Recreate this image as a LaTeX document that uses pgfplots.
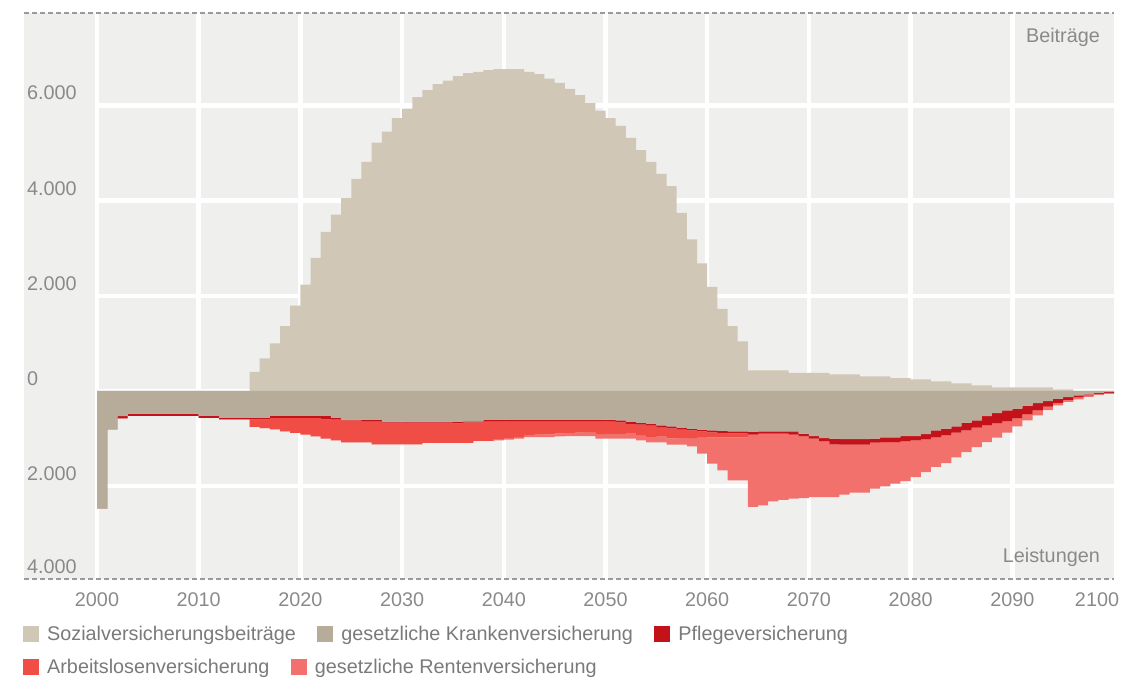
\documentclass[border=0pt]{standalone}
\usepackage{pgfplots}
\pgfplotsset{compat=1.18}
\usepackage{pgfplotstable}
\usepackage{fontspec}
\setmainfont{Liberation Sans}
\definecolor{cBG}{HTML}{EFEFEE}
\definecolor{cS}{HTML}{D0C7B7}
\definecolor{cK}{HTML}{B7AB9A}
\definecolor{cP}{HTML}{C4121B}
\definecolor{cA}{HTML}{EF4D45}
\definecolor{cR}{HTML}{F2716C}
\definecolor{cTxt}{HTML}{8A8A8A}
\definecolor{cLeg}{HTML}{7A7A7A}
\definecolor{cDash}{HTML}{9A9A9A}
\newcommand{\chartfont}{\fontsize{19.8bp}{24bp}\selectfont}

\pgfplotstableread{
year S K P A R
2000 0 -2470 0 0 0
2001 0 -806 0 0 0
2002 0 -526 -49 0 0
2003 0 -477 -48 0 0
2004 0 -477 -48 0 0
2005 0 -477 -48 0 0
2006 0 -477 -48 0 0
2007 0 -477 -48 0 0
2008 0 -477 -48 0 0
2009 0 -477 -48 0 0
2010 0 -525 -42 0 0
2011 0 -525 -42 0 0
2012 0 -567 -30 0 0
2013 0 -567 -30 0 0
2014 0 -567 -30 0 0
2015 403 -567 -30 -159 0
2016 683 -567 -30 -183 0
2017 998 -525 -42 -239 0
2018 1362 -525 -42 -281 0
2019 1796 -525 -42 -315 0
2020 2237 -525 -42 -351 0
2021 2798 -525 -42 -387 0
2022 3344 -525 -72 -405 0
2023 3708 -567 -36 -435 0
2024 4050 -603 -15 -462 0
2025 4457 -603 -15 -462 0
2026 4815 -603 -42 -435 0
2027 5220 -603 -42 -477 0
2028 5451 -645 -21 -456 0
2029 5731 -645 -21 -456 0
2030 5928 -645 -21 -456 0
2031 6172 -645 -21 -456 0
2032 6319 -645 -21 -426 0
2033 6445 -645 -21 -426 0
2034 6523 -645 -21 -426 0
2035 6613 -645 -35 -412 0
2036 6676 -638 -21 -433 0
2037 6706 -638 -21 -391 0
2038 6739 -603 -42 -405 0
2039 6760 -603 -40 -369 -25
2040 6760 -603 -40 -347 -30
2041 6760 -603 -40 -324 -35
2042 6706 -603 -40 -279 -45
2043 6655 -603 -40 -274 -50
2044 6565 -603 -40 -269 -55
2045 6475 -603 -40 -250 -60
2046 6349 -603 -40 -238 -65
2047 6214 -603 -40 -233 -70
2048 6046 -603 -40 -223 -80
2049 5893 -603 -40 -264 -95
2050 5731 -603 -40 -259 -100
2051 5571 -620 -40 -242 -100
2052 5319 -650 -40 -207 -105
2053 5059 -665 -40 -222 -110
2054 4815 -690 -40 -234 -115
2055 4563 -720 -40 -199 -120
2056 4303 -745 -40 -213 -130
2057 3744 -770 -40 -173 -145
2058 3183 -790 -40 -158 -175
2059 2679 -810 -40 -120 -347
2060 2189 -830 -40 -105 -552
2061 1727 -838 -40 -97 -692
2062 1361 -850 -40 -85 -902
2063 1040 -850 -40 -85 -902
2064 433 -861 -56 0 -1520
2065 433 -848 -49 0 -1505
2066 433 -848 -49 0 -1422
2067 433 -848 -49 0 -1393
2068 383 -848 -69 0 -1346
2069 383 -897 -56 0 -1296
2070 383 -946 -56 0 -1226
2071 383 -988 -70 0 -1170
2072 347 -1002 -119 0 -1107
2073 347 -1009 -119 0 -1051
2074 347 -1009 -119 0 -1009
2075 305 -1009 -119 0 -1009
2076 305 -1002 -84 0 -967
2077 305 -974 -98 0 -932
2078 271 -974 -98 0 -876
2079 271 -946 -112 0 -834
2080 242 -946 -91 0 -771
2081 242 -904 -105 0 -694
2082 200 -827 -140 0 -630
2083 200 -792 -140 0 -581
2084 158 -743 -133 0 -518
2085 158 -666 -161 0 -455
2086 116 -617 -154 0 -406
2087 116 -526 -196 0 -350
2088 76 -463 -217 0 -301
2089 76 -407 -224 0 -245
2090 76 -372 -196 0 -175
2091 76 -306 -178 0 -133
2092 76 -253 -154 0 -105
2093 76 -211 -119 0 -70
2094 34 -162 -88 0 -52
2095 34 -127 -58 0 -46
2096 0 -92 -38 0 -46
2097 0 -70 -20 0 -36
2098 0 -45 -18 0 -21
2099 0 -25 -17 0 -21
2100 0 -25 -17 0 -21
}\datatable

\begin{document}
\begin{tikzpicture}[x=1bp,y=1bp]
\useasboundingbox (0,0) rectangle (1135,678);
\fill[cBG] (24,99) rectangle (1114,665);
\begin{axis}[
  at={(97bp,99bp)}, anchor=south west,
  width=1017bp, height=566bp, scale only axis,
  xmin=2000, xmax=2100, ymin=-3950, ymax=7942,
  axis line style={draw=none},
  major tick length=0pt,
  xtick={2000,2010,2020,2030,2040,2050,2060,2070,2080,2090},
  xticklabels={2000,2010,2020,2030,2040,2050,2060,2070,2080,2090},
  ytick={-2000,0,2000,4000,6000},
  yticklabels={2.000,0,2.000,4.000,6.000},
  extra y ticks={-3950}, extra y tick labels={4.000},
  extra y tick style={grid=none},
  extra x ticks={2100}, extra x tick labels={2100},
  extra x tick style={grid=none, xticklabel style={xshift=-17bp}},
  grid=major,
  grid style={white, line width=4.5bp},
  /pgf/number format/assume math mode=true,
  tick label style={font=\chartfont, text=cTxt, inner sep=0pt},
  xticklabel style={anchor=base, yshift=-27.2bp},
  yticklabel style={anchor=base west, xshift=-70bp, yshift=5.5bp},
]
\addplot[fill=cS, draw=none, const plot mark left] table[x=year, y=S]{\datatable} \closedcycle;
\end{axis}
\begin{axis}[
  at={(97bp,99bp)}, anchor=south west,
  width=1017bp, height=566bp, scale only axis,
  xmin=2000, xmax=2100, ymin=-3950, ymax=7942,
  hide axis, stack plots=y]
\addplot[fill=cK, draw=none, const plot mark left] table[x=year, y=K]{\datatable} \closedcycle;
\addplot[fill=cP, draw=none, const plot mark left] table[x=year, y=P]{\datatable} \closedcycle;
\addplot[fill=cA, draw=none, const plot mark left] table[x=year, y=A]{\datatable} \closedcycle;
\addplot[fill=cR, draw=none, const plot mark left] table[x=year, y=R]{\datatable} \closedcycle;
\end{axis}
\draw[cDash, line width=1.2bp, dash pattern=on 5bp off 3bp] (24,665) -- (1114,665);
\draw[cDash, line width=1.2bp, dash pattern=on 5bp off 3bp] (24,99) -- (1114,99);
\node[anchor=base east, inner sep=0pt, text=cTxt, font=\chartfont] at (1100,635.5) {Beiträge};
\node[anchor=base east, inner sep=0pt, text=cTxt, font=\chartfont] at (1100,115.5) {Leistungen};
% legend
\begin{scope}[every node/.style={anchor=base west, inner sep=0pt, text=cLeg, font=\chartfont}]
\node (t1) at (47,37) {Sozialversicherungsbeiträge};
\fill[cS] (23,36) rectangle ++(16,16);
\node (t2) at ([xshift=45bp]t1.base east) {gesetzliche Krankenversicherung};
\fill[cK] ([xshift=-24bp,yshift=-1bp]t2.base west) rectangle ++(16,16);
\node (t3) at ([xshift=45bp]t2.base east) {Pflegeversicherung};
\fill[cP] ([xshift=-24bp,yshift=-1bp]t3.base west) rectangle ++(16,16);
\node (t4) at (47,4) {Arbeitslosenversicherung};
\fill[cA] (23,3) rectangle ++(16,16);
\node (t5) at ([xshift=45bp]t4.base east) {gesetzliche Rentenversicherung};
\fill[cR] ([xshift=-24bp,yshift=-1bp]t5.base west) rectangle ++(16,16);
\end{scope}
\end{tikzpicture}
\end{document}
